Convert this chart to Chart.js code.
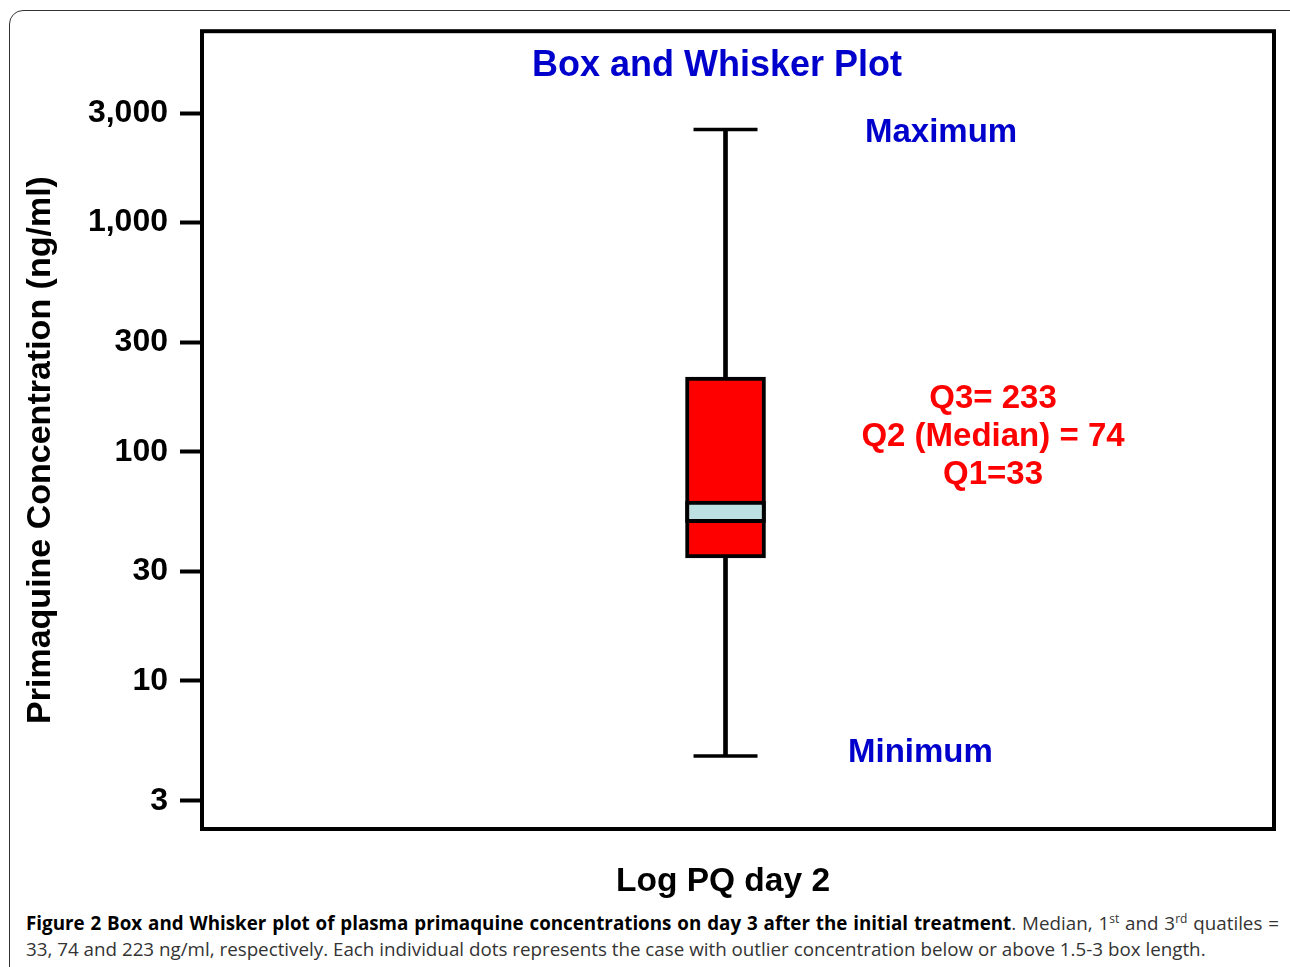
<!DOCTYPE html>
<html>
<head>
<meta charset="utf-8">
<script src="https://cdn.jsdelivr.net/npm/chart.js@4.4.1/dist/chart.umd.min.js"></script>
<style>
    html, body { margin: 0; padding: 0; background: #fff; }
    body { width: 1290px; height: 967px; position: relative; overflow: hidden; }
    .frame {
        position: absolute; left: 9px; top: 10px; width: 1300px; height: 1000px;
        border: 1.5px solid #333; border-radius: 14px; box-sizing: border-box;
    }
    #wrap { position: absolute; left: 0; top: 0; width: 1290px; height: 905px; }
    .caption {
        position: absolute; left: 26px; top: 910px; width: 1253px;
        font-family: "Open Sans", sans-serif; font-size: 18.8px; line-height: 26px;
        color: #333; text-align: justify; text-align-last: left;
    }
    .caption b { color: #000; }
    .caption sup { font-size: 12px; line-height: 0; }
</style>
</head>
<body>
<div class="frame"></div>
<div id="wrap"><canvas id="boxChart" width="1290" height="905"></canvas></div>
<div class="caption"><b>Figure 2 Box and Whisker plot of plasma primaquine concentrations on day 3 after the initial treatment</b>. Median, 1<sup>st</sup> and 3<sup>rd</sup> quatiles = 33, 74 and 223 ng/ml, respectively. Each individual dots represents the case with outlier concentration below or above 1.5-3 box length.</div>

<script>
// ── DATA ──────────────────────────────────────────────
const yTicks = [3, 10, 30, 100, 300, 1000, 3000];
const whiskerMin = 4.7;
const whiskerMax = 2550;
const boxQ1 = 34.4;
const boxQ3 = 212;
const medianBand = [49, 61];
const groupX = 1;

const BLUE = '#0000cc';
const RED = '#ff0000';
const FONT = '"Liberation Sans", Arial, sans-serif';

// ── FRAME + NOTES ─────────────────────────────────────
const framePlugin = {
    id: 'frame',
    afterDraw(chart) {
        const {ctx, chartArea: a} = chart;
        ctx.save();
        ctx.strokeStyle = '#000';
        ctx.lineWidth = 4;
        ctx.strokeRect(a.left, a.top, a.right - a.left, a.bottom - a.top);

        // axis titles
        ctx.textAlign = 'center';
        ctx.textBaseline = 'middle';
        ctx.fillStyle = '#000';
        ctx.font = 'bold 33.5px ' + FONT;
        ctx.fillText('Log PQ day 2', 723, 882);

        ctx.save();
        ctx.translate(41, 450);
        ctx.rotate(-Math.PI / 2);
        ctx.font = 'bold 34px ' + FONT;
        ctx.fillText('Primaquine Concentration (ng/ml)', 0, 0);
        ctx.restore();

        ctx.fillStyle = BLUE;
        ctx.font = 'bold 36px ' + FONT;
        ctx.fillText('Box and Whisker Plot', 717, 66);

        ctx.textAlign = 'left';
        ctx.font = 'bold 33px ' + FONT;
        ctx.fillText('Maximum', 865, 133);
        ctx.fillText('Minimum', 848, 753);

        ctx.textAlign = 'center';
        ctx.fillStyle = RED;
        ctx.fillText('Q3= 233', 993, 399);
        ctx.fillText('Q2 (Median) = 74', 993, 437);
        ctx.fillText('Q1=33', 993, 475);
        ctx.restore();
    }
};

const ctx = document.getElementById('boxChart');
new Chart(ctx, {
    type: 'bar',
    data: {
        datasets: [
            {
                type: 'scatter',
                label: 'Caps',
                data: [{x: groupX, y: whiskerMax}, {x: groupX, y: whiskerMin}],
                pointStyle: 'line',
                pointRadius: 32,
                pointHoverRadius: 32,
                borderColor: '#000',
                borderWidth: 3.5
            },
            {
                label: 'Median',
                data: [{x: groupX, y: medianBand}],
                backgroundColor: '#bde0e3',
                borderColor: '#000',
                borderWidth: 4,
                borderSkipped: false,
                barThickness: 80,
                grouped: false
            },
            {
                label: 'IQR',
                data: [{x: groupX, y: [boxQ1, boxQ3]}],
                backgroundColor: RED,
                borderColor: '#000',
                borderWidth: 4,
                borderSkipped: false,
                barThickness: 80,
                grouped: false
            },
            {
                label: 'Upper whisker',
                data: [{x: groupX, y: [boxQ3, whiskerMax]}],
                backgroundColor: '#000',
                borderWidth: 0,
                barThickness: 4,
                grouped: false
            },
            {
                label: 'Lower whisker',
                data: [{x: groupX, y: [whiskerMin, boxQ1]}],
                backgroundColor: '#000',
                borderWidth: 0,
                barThickness: 4,
                grouped: false
            }
        ]
    },
    options: {
        responsive: false,
        animation: false,
        layout: {autoPadding: false, padding: {left: 20, right: 16, top: 30, bottom: 0}},
        plugins: {
            legend: {display: false},
            tooltip: {enabled: false}
        },
        scales: {
            x: {
                type: 'linear',
                min: 0,
                max: 2.06,
                grid: {display: false},
                border: {display: false},
                ticks: {display: false},
                afterFit: s => { s.height = 76; }
            },
            y: {
                type: 'logarithmic',
                min: 2.26,
                max: 6840,
                afterBuildTicks: s => { s.ticks = yTicks.map(v => ({value: v})); },
                grid: {drawOnChartArea: false, drawTicks: true, tickLength: 22, tickWidth: 4, tickColor: '#000'},
                border: {display: false},
                ticks: {
                    color: '#000',
                    padding: 12,
                    font: {family: FONT, size: 32, weight: 'bold'},
                    callback: v => Number(v).toLocaleString('en-US')
                },
                afterFit: s => { s.width = 182; }
            }
        }
    },
    plugins: [framePlugin]
});
</script>
</body>
</html>
